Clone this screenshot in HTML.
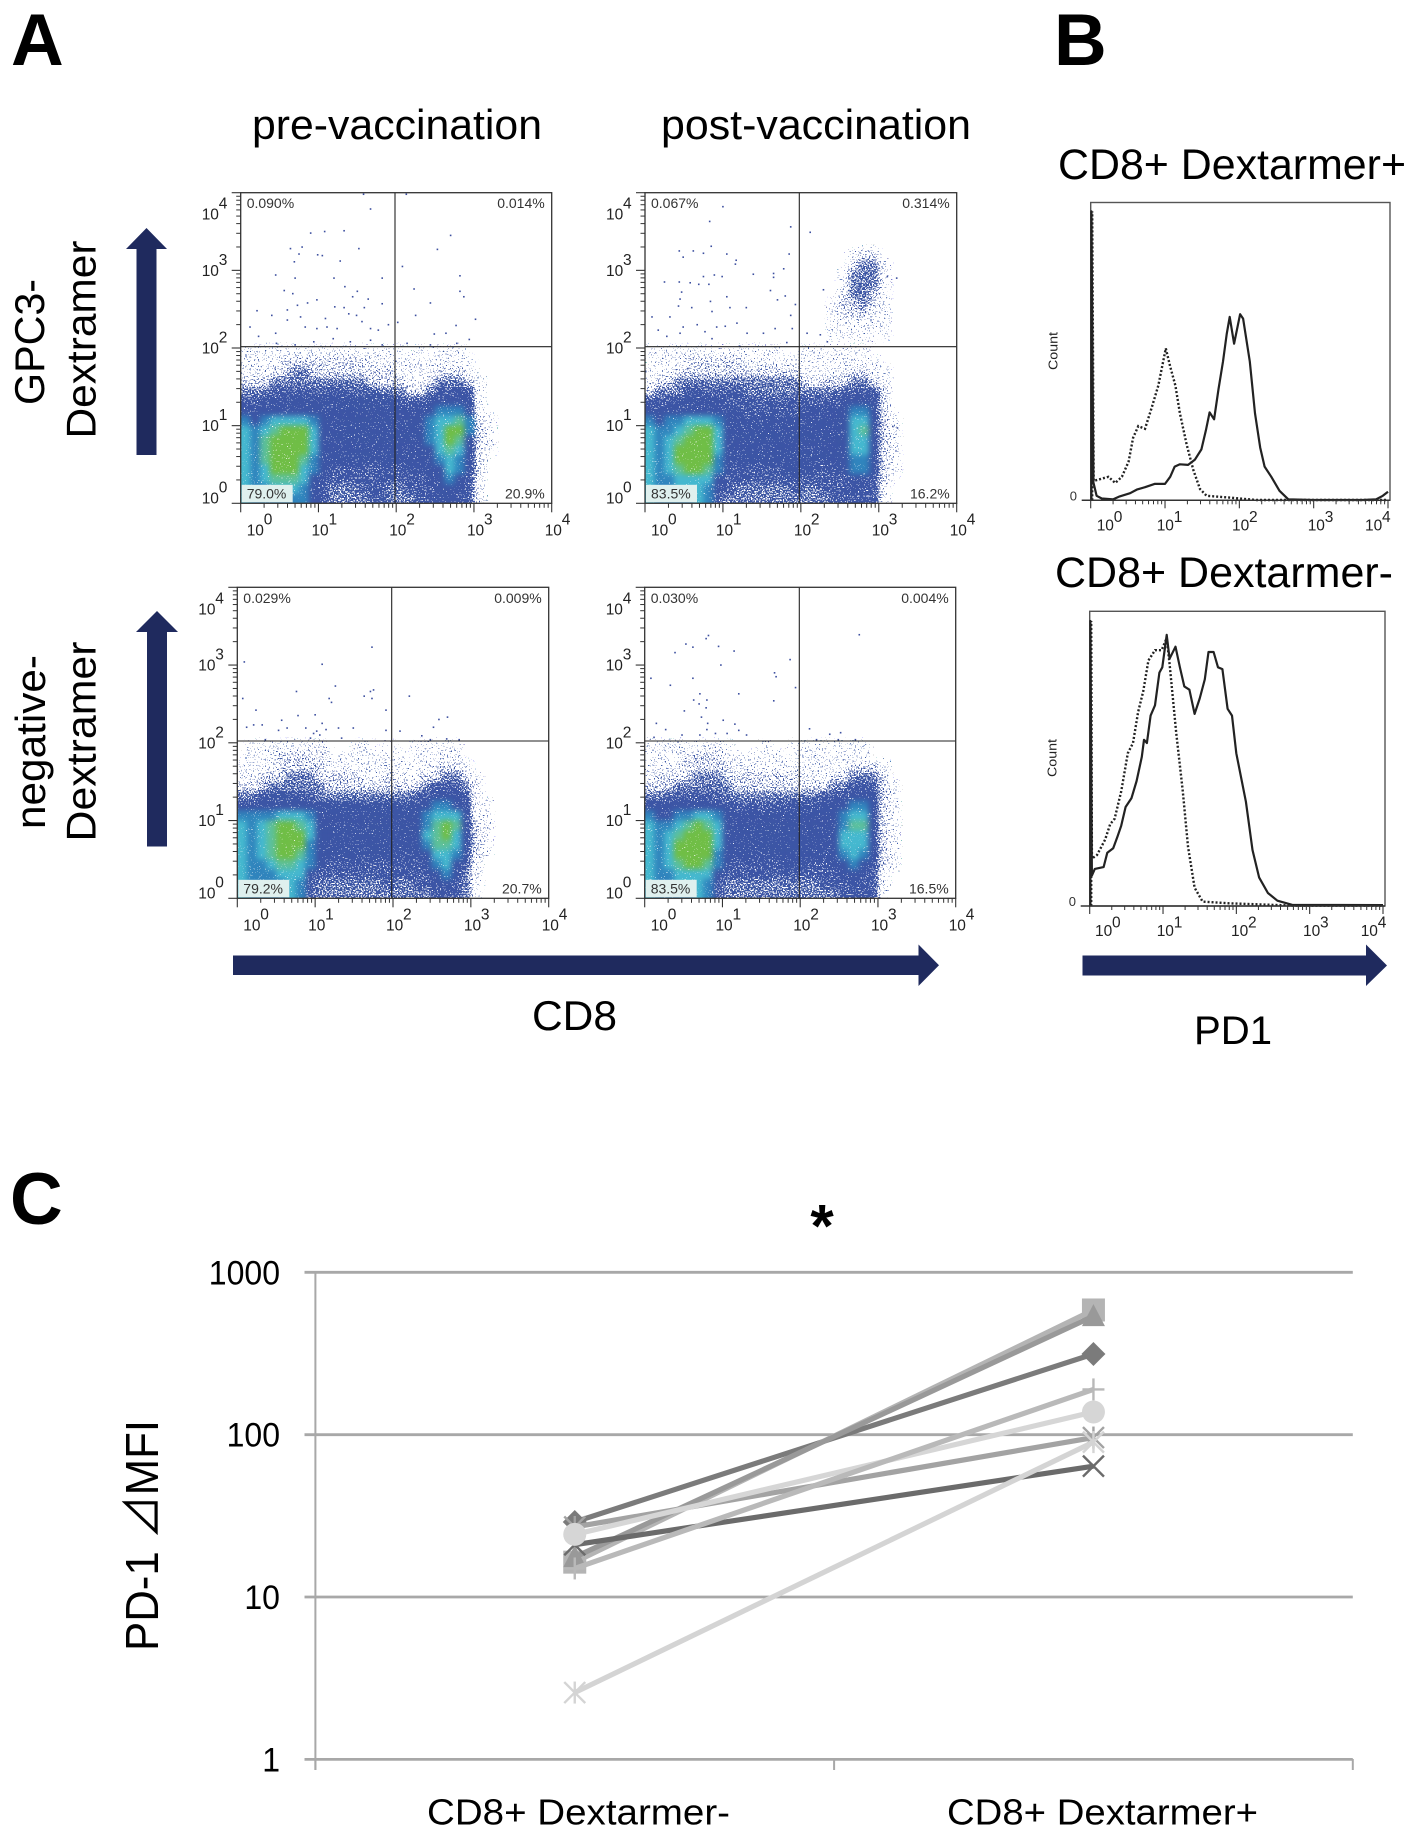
<!DOCTYPE html>
<html lang="en">
<head>
<meta charset="utf-8">
<title>Flow cytometry figure: PD-1 expression on dextramer positive CD8 T cells</title>
<style>
html,body{margin:0;padding:0;background:#fff;}
svg{display:block;}
text{font-family:"Liberation Sans","Noto Sans CJK JP",sans-serif;fill:#000;}
</style>
</head>
<body>
<svg id="figure" xmlns="http://www.w3.org/2000/svg" width="1417" height="1839" viewBox="0 0 1417 1839">
  <defs>
    <!-- Turns density (alpha) into an event-like speckle texture, the way a pseudocolour dot plot looks -->
    <filter id="density-blur" x="-8%" y="-8%" width="116%" height="116%" color-interpolation-filters="sRGB">
      <feGaussianBlur in="SourceGraphic" stdDeviation="3" result="soft"/>
      <feTurbulence type="fractalNoise" baseFrequency="0.72" numOctaves="1" seed="7" result="noise"/>
      <feColorMatrix in="noise" type="matrix" values="0 0 0 0 0  0 0 0 0 0  0 0 0 0 0  2.5 0 0 0 -0.75" result="noiseAlpha"/>
      <feComposite in="soft" in2="noiseAlpha" operator="arithmetic" k1="0" k2="1" k3="1" k4="-0.98" result="sum"/>
      <feComponentTransfer in="sum" result="mask"><feFuncA type="linear" slope="40" intercept="0"/></feComponentTransfer>
      <feComponentTransfer in="soft" result="opaque"><feFuncA type="linear" slope="100" intercept="0"/></feComponentTransfer>
      <feComposite in="opaque" in2="mask" operator="in"/>
    </filter>
  </defs>
  <rect x="0" y="0" width="1417" height="1839" fill="#fff"/>

  <text x="11" y="65" font-size="73" font-weight="bold">A</text>
  <text x="1054" y="65" font-size="73" font-weight="bold">B</text>
  <text x="10" y="1224" font-size="73" font-weight="bold">C</text>

  <text x="252" y="139" font-size="42" textLength="290" lengthAdjust="spacingAndGlyphs">pre-vaccination</text>
  <text x="661" y="139" font-size="42" textLength="310" lengthAdjust="spacingAndGlyphs">post-vaccination</text>

  <text transform="translate(44 405) rotate(-90)" font-size="42" textLength="126" lengthAdjust="spacingAndGlyphs">GPC3-</text>
  <text transform="translate(95.5 438.5) rotate(-90)" font-size="42" textLength="198" lengthAdjust="spacingAndGlyphs">Dextramer</text>
  <text transform="translate(45 829) rotate(-90)" font-size="42" textLength="174" lengthAdjust="spacingAndGlyphs">negative-</text>
  <text transform="translate(95.5 841.5) rotate(-90)" font-size="42" textLength="200" lengthAdjust="spacingAndGlyphs">Dextramer</text>

  <polygon fill="#1f2a5e" points="136.5,455 156.5,455 156.5,249 167,249 146.5,228 126,249 136.5,249"/>
  <polygon fill="#1f2a5e" points="147,846.5 167,846.5 167,632 178,632 157,611 136,632 147,632"/>
  <polygon fill="#1f2a5e" points="233,955.5 918.5,955.5 918.5,944.5 939,965.3 918.5,986 918.5,975 233,975"/>
  <polygon fill="#1f2a5e" points="1082.5,955.5 1366,955.5 1366,944.5 1387,965.5 1366,986 1366,975.5 1082.5,975.5"/>

  <text x="532" y="1030" font-size="42" textLength="85" lengthAdjust="spacingAndGlyphs">CD8</text>
  <text x="1194" y="1044" font-size="40" textLength="78" lengthAdjust="spacingAndGlyphs">PD1</text>
  <text x="1058" y="179" font-size="42.5" textLength="348" lengthAdjust="spacingAndGlyphs">CD8+ Dextarmer+</text>
  <text x="1055" y="587" font-size="42.5" textLength="338" lengthAdjust="spacingAndGlyphs">CD8+ Dextarmer-</text>

  <text x="822" y="1246.5" font-size="60" font-weight="bold" text-anchor="middle">*</text>
  <text transform="translate(158 1651) rotate(-90)" font-size="46" textLength="231" lengthAdjust="spacingAndGlyphs">PD-1 ⊿MFI</text>

  <g id="flow-layer"></g>
  <g id="hist-layer"></g>
  <g id="line-layer"></g>
</svg>

<script>
/* ---------- shared flow axis labels ---------- */
const flowDecades = [0, 1, 2, 3, 4];
const minorMultipliers = [2, 3, 4, 5, 6, 7, 8, 9];

/* ---------- flow density grids: level 0-9, each cell 1/8 decade; rows run from high dextramer to low, columns from low CD8 to high ---------- */
const preGpc3Density = [
[1,1,1,1,1,1,1,1,1,1,1,1,1,1,1,1,1,0,1,0,1,1,1,0,0,0],
[1,1,1,1,2,2,2,2,2,2,2,2,2,1,1,1,1,1,1,1,1,1,1,1,0,0],
[1,1,1,2,2,3,3,2,2,2,2,2,2,2,2,2,1,1,1,1,2,2,2,1,0,0],
[2,2,2,3,3,3,3,3,3,3,3,3,3,2,2,2,2,1,1,2,3,3,3,2,1,0],
[3,3,3,4,4,4,4,4,4,4,4,4,4,4,3,3,3,2,2,3,4,4,5,4,1,0],
[4,4,5,5,5,5,5,5,5,5,5,5,5,5,5,5,4,4,4,5,5,5,5,5,1,0],
[5,5,5,5,5,5,5,5,5,5,5,5,5,5,5,5,5,5,5,5,6,6,6,5,1,0],
[6,5,6,7,7,7,7,6,5,5,5,5,5,5,5,5,5,5,5,6,7,7,8,6,2,1],
[7,6,7,8,9,9,9,7,5,5,5,5,5,5,5,5,5,5,5,6,7,9,9,6,2,1],
[7,6,8,9,9,9,9,7,5,5,5,5,5,5,5,5,5,5,5,6,7,9,8,5,2,1],
[7,6,8,9,9,9,9,7,5,5,5,5,5,5,5,5,5,5,5,5,7,8,7,5,2,1],
[7,6,8,9,9,9,8,6,5,5,5,5,5,5,5,5,5,5,5,5,6,7,6,5,2,0],
[7,6,7,9,9,9,7,6,5,4,4,4,4,4,4,4,4,5,5,5,5,7,6,5,2,0],
[7,6,7,8,8,8,7,5,4,4,4,4,4,4,4,4,4,4,4,5,5,6,5,4,1,0],
[7,6,6,7,7,7,6,5,4,3,3,3,4,4,4,3,3,4,4,4,5,5,5,4,1,0],
[7,6,6,6,6,6,6,5,4,3,3,3,3,4,4,3,3,3,4,4,5,5,4,4,1,0]
];
const postGpc3Density = [
[1,1,1,1,1,1,1,1,1,1,1,1,1,1,0,0,1,1,1,1,1,1,1,0,0,0],
[0,1,1,1,2,2,2,2,2,2,1,1,1,1,1,1,1,1,1,1,1,1,1,1,0,0],
[1,1,1,2,2,2,2,2,2,2,2,2,2,2,2,2,1,1,1,1,2,2,2,1,1,0],
[1,2,2,3,3,3,3,3,3,3,3,3,3,3,3,3,2,1,2,2,2,3,3,2,1,0],
[2,3,3,3,4,4,4,4,4,4,3,3,3,3,3,3,3,3,3,3,4,4,4,4,2,0],
[4,4,4,5,5,5,5,5,4,4,4,4,4,4,4,4,4,4,4,4,5,5,5,5,2,0],
[5,5,5,5,5,5,5,5,5,5,4,4,4,4,4,4,5,5,5,5,5,6,6,5,2,0],
[6,5,6,6,7,7,7,6,5,5,5,5,5,5,5,5,5,5,5,5,5,7,7,5,2,1],
[7,6,6,7,8,9,9,7,5,5,5,5,5,5,5,5,5,5,5,5,5,7,8,5,2,1],
[7,6,7,8,9,9,9,7,5,5,5,5,5,5,5,5,5,5,5,5,5,7,7,5,2,1],
[7,6,7,9,9,9,9,7,5,5,5,5,5,5,5,5,5,5,5,5,5,7,7,5,2,1],
[7,6,7,9,9,9,9,6,5,5,5,5,5,5,5,5,5,5,5,5,5,6,6,5,2,1],
[7,6,7,8,9,9,8,6,5,4,4,4,4,4,5,5,5,4,4,5,5,6,6,5,2,1],
[7,6,6,7,7,7,7,5,4,4,4,4,4,4,4,4,4,4,4,4,4,5,5,4,2,0],
[7,6,6,7,7,7,6,5,4,3,3,3,3,3,3,4,3,3,4,4,4,5,4,4,1,0],
[7,6,6,6,6,7,6,4,3,3,3,3,3,3,3,3,3,3,3,4,4,4,4,4,1,0]
];
const preNegativeDensity = [
[0,1,1,1,1,1,1,1,1,0,0,0,1,1,0,1,0,0,1,1,1,1,1,0,0,0],
[0,1,1,1,2,2,2,2,2,1,1,1,1,1,1,1,1,0,1,1,1,1,1,0,0,0],
[1,1,1,1,2,2,2,2,2,1,1,1,1,1,1,1,1,1,1,1,2,2,2,1,0,0],
[1,1,2,2,2,3,3,3,2,2,2,2,2,1,1,2,1,1,1,2,2,3,3,2,1,0],
[2,2,2,3,3,3,3,3,3,2,2,2,2,2,2,2,2,2,2,3,4,4,4,3,1,0],
[3,3,4,4,4,4,4,4,3,3,3,3,3,3,3,3,3,3,4,4,5,5,5,4,1,0],
[5,5,5,5,5,5,5,5,5,5,5,5,5,5,5,5,5,5,5,5,6,6,5,5,1,1],
[6,6,6,6,7,7,7,6,5,5,5,5,5,5,5,5,5,5,5,6,7,7,7,5,1,1],
[7,6,7,8,9,9,8,7,5,5,5,5,5,5,5,5,5,5,5,6,8,9,8,5,2,1],
[7,6,7,8,9,9,9,7,5,5,5,5,5,5,5,5,5,5,5,7,8,9,7,5,2,1],
[7,6,7,8,9,9,9,6,5,5,5,5,5,5,5,5,5,5,5,6,8,8,7,5,2,1],
[7,6,7,8,9,9,8,6,5,5,5,5,5,5,5,5,5,5,5,5,7,7,6,4,2,1],
[7,6,6,7,8,8,7,6,5,4,4,4,4,4,4,4,4,4,4,5,6,7,5,4,1,0],
[7,6,6,6,7,7,7,5,4,4,4,4,4,4,4,4,4,4,4,4,5,6,5,3,1,0],
[7,6,6,6,6,7,6,4,3,3,3,3,3,3,3,4,3,3,4,4,4,5,4,3,1,0],
[7,6,6,6,6,7,6,4,3,3,3,3,3,3,3,3,3,3,3,3,4,4,4,3,1,0]
];
const postNegativeDensity = [
[1,1,1,1,1,1,1,1,1,0,0,0,1,0,0,1,1,1,1,1,1,1,1,0,0,0],
[0,1,1,1,2,2,2,2,1,1,1,1,1,1,1,0,1,1,1,1,1,1,1,0,0,0],
[1,1,1,1,2,2,2,2,2,1,1,1,1,1,1,1,1,1,1,1,1,2,2,2,1,0],
[1,2,2,2,2,3,3,3,2,2,2,2,2,2,2,2,1,1,1,2,2,3,3,3,2,0],
[2,2,2,3,3,3,3,3,3,2,2,2,2,2,2,2,2,2,2,3,3,4,5,4,2,1],
[3,3,4,4,4,4,4,4,3,3,3,3,3,3,3,3,3,3,4,4,4,5,5,5,2,1],
[5,5,5,5,5,5,5,5,5,4,4,4,4,4,4,5,5,5,5,5,5,6,6,5,2,1],
[6,5,5,6,6,7,7,6,5,5,5,5,5,5,5,5,5,5,5,5,6,7,7,5,2,1],
[7,6,6,7,8,9,8,7,5,5,5,5,5,5,5,5,5,5,5,5,6,8,8,5,2,1],
[7,6,7,8,9,9,9,7,5,5,5,5,5,5,5,5,5,5,5,5,7,7,7,5,2,1],
[7,6,7,9,9,9,9,7,5,5,5,5,5,5,5,5,5,5,5,5,7,7,7,5,2,1],
[7,6,7,9,9,9,9,6,5,5,5,5,5,5,5,5,5,5,5,5,6,7,6,5,2,1],
[7,6,7,8,9,9,8,6,5,4,4,4,4,4,5,5,5,4,4,5,5,6,5,5,2,1],
[7,6,6,7,7,7,7,5,4,4,4,4,4,4,4,4,4,4,4,4,5,5,5,4,1,0],
[7,6,6,7,7,7,6,4,3,3,3,3,3,3,3,3,3,3,4,4,4,5,4,4,1,0],
[7,6,6,6,6,7,6,4,3,3,3,3,3,3,3,3,3,3,3,3,4,4,4,4,1,0]
];
/* antigen-specific CD8+ dextramer+ cluster in the post-vaccination plot */
const postClusterDensity = [
[0,0,1,2,2,0],
[0,0,2,3,3,1],
[0,1,3,3,3,1],
[0,1,3,3,3,1],
[0,2,3,3,2,1],
[1,2,2,3,2,1],
[1,2,2,2,1,1],
[1,1,1,1,1,1],
[1,1,1,1,1,1]
];

/* ---------- individual events (log10 CD8, log10 dextramer) ---------- */
const preGpc3DotX = [1.58,1.67,2.13,.90,1.08,1.33,.64,.79,1.52,.75,.99,1.05,.69,1.28,.45,.7,1.2,1.82,2.08,2.53,2.7,2.82,2.82,2.87,.56,.67,1.34,1.5,1.44,2.23,1.64,.98,.86,.73,1.82,2.44,.21,.4,.6,.77,1.09,1.21,1.33,1.59,1.39,1.49,2.25,3.02,.12,.23,.45,.6,.83,.98,1.11,1.24,1.56,1.67,1.77,1.9,2.02,2.77,2.64,2.49,2.94,2.78,2.14,2.44,1.19,1.41,.94,.46,.7,1.67,1.82];
const preGpc3DotY = [3.98,3.79,3.98,3.48,3.5,3.51,3.28,3.3,3.28,3.21,3.2,3.19,3.11,3.12,2.94,2.9,2.9,2.9,3.05,3.27,3.45,2.93,2.73,2.66,2.74,2.7,2.79,2.73,2.66,2.76,2.63,2.62,2.58,2.55,2.57,2.58,2.48,2.42,2.49,2.4,2.38,2.53,2.52,2.52,2.44,2.42,2.42,2.37,2.27,2.15,2.19,2.36,2.27,2.25,2.27,2.25,2.34,2.25,2.23,2.3,2.33,2.29,2.19,2.18,2.11,2.06,2.06,2.04,2.12,2.08,2.08,2.06,2.04,2.1,2.04];
const postGpc3DotX = [1.0,.83,1.87,2.12,.85,.44,.62,.75,.49,1.05,1.85,1.17,1.16,1.78,1.39,1.65,1.65,.75,.89,.99,.25,.44,.58,.69,.82,2.29,1.61,1.8,1.7,1.05,.47,.45,.84,1.93,1.09,1.3,.43,.6,.09,.32,.86,1.87,.67,.49,.92,1.03,1.18,1.67,1.89,.17,.45,.77,1.31,1.52,.28,.86,1.22,1.82,2.25,2.08,2.34,3.23,3.11,3.24,3.18];
const postGpc3DotY = [3.82,3.63,3.56,3.49,3.31,3.25,3.25,3.22,3.17,3.21,3.21,3.13,3.08,3.02,2.95,2.96,2.91,2.92,2.94,2.92,2.85,2.85,2.84,2.82,2.82,2.75,2.74,2.67,2.62,2.66,2.72,2.63,2.6,2.56,2.52,2.52,2.54,2.52,2.4,2.4,2.47,2.42,2.3,2.27,2.27,2.28,2.32,2.25,2.25,2.23,2.19,2.21,2.19,2.19,2.15,2.12,2.02,2.07,2.17,2.19,2.08,2.9,2.92,.97,.99];
const preNegativeDotX = [1.73,.09,1.09,1.26,.76,1.71,1.75,1.63,1.73,2.21,1.18,1.21,.07,.24,1.91,2.7,2.59,2.52,.57,.78,1,1.09,.12,.21,.32,.53,.64,.88,.98,1.02,1.14,1.3,1.49,1.91,2.09,2.37,.94,1.06,.36,1.34,2.48,2.69,2.85];
const preNegativeDotY = [3.23,3.04,3.01,2.73,2.66,2.66,2.68,2.6,2.57,2.6,2.57,2.52,2.57,2.42,2.42,2.33,2.3,2.2,2.29,2.35,2.36,2.25,2.2,2.23,2.23,2.16,2.19,2.19,2.12,2.15,2.17,2.19,2.19,2.16,2.15,2.09,2.06,2.1,2.04,2.06,2.04,2.05,2.04];
const postNegativeDotX = [.82,.79,.53,.62,.95,.39,1.15,.98,1.87,2.76,1.67,1.69,.08,.62,.33,1.94,.71,1.21,.63,.8,.7,1.66,.79,.51,.73,1.01,.15,.81,1.16,.27,2.12,.8,1.21,.71,.91,.48,.12,1.06,1.31,2.21,2.38,2.52,2.71,2.49];
const postNegativeDotY = [3.38,3.34,3.27,3.23,3.24,3.16,3.18,3.0,3.07,3.39,2.9,2.85,2.83,2.83,2.74,2.71,2.63,2.63,2.55,2.55,2.5,2.54,2.45,2.41,2.33,2.29,2.25,2.25,2.24,2.17,2.18,2.17,2.16,2.1,2.12,2.1,2.07,2.12,2.1,2.04,2.11,2.13,2.04,2.04];

/* ---------- quadrant percentages: upper left, upper right, lower left, lower right ---------- */
const preGpc3Percent = ["0.090%", "0.014%", "79.0%", "20.9%"];
const postGpc3Percent = ["0.067%", "0.314%", "83.5%", "16.2%"];
const preNegativePercent = ["0.029%", "0.009%", "79.2%", "20.7%"];
const postNegativePercent = ["0.030%", "0.004%", "83.5%", "16.5%"];

/* ---------- PD1 histograms: log10 PD1 and percent of the count axis ---------- */
const posSolidPd1 = [.01,.01,.036,.08,.15,.30,.39,.53,.62,.73,.86,1.0,1.07,1.13,1.2,1.31,1.4,1.49,1.55,1.6,1.66,1.72,1.78,1.83,1.87,1.93,2.01,2.05,2.14,2.21,2.28,2.34,2.43,2.54,2.66,2.99,3.66,3.84,3.93,4.0];
const posSolidCount = [0,97,6,1.5,.6,.3,1.3,2.4,3.6,4.4,5.5,5.5,7.9,11.3,12.1,11.9,13.6,17.1,23.5,29.5,27.2,37.3,46.6,55.8,61.6,52.6,62.5,61,46.6,29.2,17.7,11.3,7.9,3.2,.3,.1,.1,.3,1.5,2.9];
const posDottedPd1 = [.02,.02,.04,.24,.33,.42,.51,.57,.64,.73,.82,.91,1.01,1.07,1.14,1.2,1.29,1.38,1.47,1.56,1.87,2.23,4.0];
const posDottedCount = [0,97,6.5,7.9,5.8,7.9,13,21,24.9,24,31,38.5,51,44.9,38.5,29.2,18.8,10.2,3.8,1.5,.9,.1,.1];
const negSolidPd1 = [.01,.01,.03,.07,.19,.24,.32,.38,.43,.49,.57,.64,.71,.74,.78,.83,.89,.95,.99,1.05,1.09,1.17,1.23,1.29,1.36,1.43,1.5,1.57,1.62,1.69,1.75,1.81,1.88,1.94,2.0,2.13,2.22,2.31,2.43,2.56,2.76,4.0];
const negSolidCount = [0,96.7,10.3,12.6,13.2,18.1,19.6,23.7,27.2,33.6,36.6,42.4,50.6,56.4,55.3,64.6,68.1,79.2,81,92,83.9,88,81,74.5,73.4,65.2,70.4,76.9,86.2,86.2,81,80.4,66.9,64.6,51.8,35.4,19,9.7,4.4,1.8,.4,.3];
const negDottedPd1 = [.02,.02,.03,.1,.21,.28,.34,.43,.52,.59,.66,.73,.8,.89,.98,1.05,1.09,1.18,1.27,1.34,1.43,1.54,1.9,2.81,4.0];
const negDottedCount = [0,96.7,16.1,17.3,22.5,27.8,29.6,38.9,51.8,55.3,65.8,72.8,83.3,86.8,86.8,90.9,82.1,58.8,38.9,20.2,6.2,1.5,.9,.1,.1];

/* ---------- panel C ---------- */
const mfiCategories = ["CD8+ Dextarmer-", "CD8+ Dextarmer+"];
const mfiTicks = [1, 10, 100, 1000];
const mfiDiamond = [29, 314];
const mfiSquare = [16.4, 586];
const mfiTriangle = [17.6, 537];
const mfiCross = [21, 64];
const mfiStar = [27, 96];
const mfiCircle = [24.3, 138];
const mfiPlus = [15, 190];
const mfiAsterisk = [2.58, 90];

/* ---------- rendering ---------- */
const NS = 'http://www.w3.org/2000/svg';
const densityColors = ['#ffffff','#3c55a5','#3c55a5','#3c55a5','#3c55a5','#3c55a5','#3084bd','#45b8cf','#5dc09a','#70be46'];
const densityCoverage = [0, 0.1, 0.28, 0.62, 0.86, 1, 1, 1, 1, 1];
const CELL = 0.125;

function mk(tag, attrs, parent) {
  const el = document.createElementNS(NS, tag);
  for (const k in attrs) el.setAttribute(k, attrs[k]);
  parent.appendChild(el);
  return el;
}
function linearAxis(d0, d1, p0, p1) {
  return v => p0 + (v - d0) / (d1 - d0) * (p1 - p0);
}
function logAxis(d0, d1, p0, p1) {
  const s = linearAxis(Math.log10(d0), Math.log10(d1), p0, p1);
  return v => s(Math.log10(v));
}
function powerLabel(parent, x, y, exp, name, sup) {
  const t = mk('text', {x: x, y: y, 'font-size': 15.5, fill: '#222'}, parent);
  
  
  t.style.fill = '#222';
  t.appendChild(document.createTextNode('10'));
  const s = mk('tspan', {x: x + sup.dx, y: y - sup.dy}, t);
  
  
  s.textContent = exp;
}
function drawDensity(group, grid, rowTop, colStart, sx, sy, extend) {
  grid.forEach((row, r) => {
    row.forEach((level, c) => {
      if (!level) return;
      let x0 = sx(colStart + c * CELL);
      const x1 = sx(colStart + (c + 1) * CELL);
      const y0 = sy(rowTop - r * CELL);
      let y1 = sy(rowTop - (r + 1) * CELL);
      if (extend && c === 0) x0 -= 12;
      if (extend && r === grid.length - 1) y1 += 12;
      const cell = mk('rect', {x: x0, y: y0, width: x1 - x0, height: y1 - y0, fill: densityColors[level], 'fill-opacity': densityCoverage[level]}, group);
      
      
    });
  });
}
function drawFlowPanel(cfg) {
  const layer = document.getElementById('flow-layer');
  const g = mk('g', {}, layer);
  
  
  const sx = linearAxis(0, 4, cfg.left, cfg.right);
  const sy = linearAxis(0, 4, cfg.bottom, cfg.top);
  const clipId = cfg.name + '-clip';
  const defs = mk('clipPath', {id: clipId}, g);
  mk('rect', {x: cfg.left, y: cfg.top, width: cfg.right - cfg.left, height: cfg.bottom - cfg.top}, defs);

  const clip = mk('g', {'clip-path': 'url(#' + clipId + ')'}, g);
  
  
  const blur = mk('g', {filter: 'url(#density-blur)'}, clip);
  drawDensity(blur, cfg.density, 2, 0, sx, sy, true);
  if (cfg.cluster) drawDensity(blur, cfg.cluster, 3.25, 2.375, sx, sy, false);

  cfg.dotX.forEach((v, i) => {
    const dot = mk('rect', {x: sx(v) - 0.8, y: sy(cfg.dotY[i]) - 0.8, width: 1.6, height: 1.6, fill: '#3c4f9f'}, g);
    
    
  });

  const box = mk('rect', {x: cfg.left + 1, y: cfg.bottom - 18.5, width: 51, height: 17.5, fill: '#dff0ee'}, g);
  
  

  const vLine = mk('line', {x1: cfg.gateX, x2: cfg.gateX, y1: cfg.top, y2: cfg.bottom, stroke: '#222', 'stroke-width': 1.1}, g);
  
  
  const hLine = mk('line', {x1: cfg.left, x2: cfg.right, y1: cfg.gateY, y2: cfg.gateY, stroke: '#222', 'stroke-width': 1.1}, g);
  
  
  const frame = mk('rect', {x: cfg.left, y: cfg.top, width: cfg.right - cfg.left, height: cfg.bottom - cfg.top, fill: 'none', stroke: '#333', 'stroke-width': 1.3}, g);
  
  

  flowDecades.forEach(e => {
    const mx = mk('line', {x1: sx(e), x2: sx(e), y1: cfg.bottom, y2: cfg.bottom + 9, stroke: '#333', 'stroke-width': 1.1}, g);
    
    
    const my = mk('line', {x1: cfg.left - 9, x2: cfg.left, y1: sy(e), y2: sy(e), stroke: '#333', 'stroke-width': 1.1}, g);
    
    
    powerLabel(g, sx(e) + (e === 0 ? 6 : -7), cfg.bottom + 32, e, 'x-tick-label', {dx: 17, dy: 11});
    const nudge = e === 4 ? 27 : (e === 0 ? 0 : 5.5);
    powerLabel(g, cfg.left - 39, sy(e) + nudge, e, 'y-tick-label', {dx: 17, dy: 11});
    if (e === 4) return;
    minorMultipliers.forEach(m => {
      const off = Math.log10(m);
      const tx = mk('line', {x1: sx(e + off), x2: sx(e + off), y1: cfg.bottom, y2: cfg.bottom + 4.5, stroke: '#333', 'stroke-width': 1}, g);
      
      
      const ty = mk('line', {x1: cfg.left - 4.5, x2: cfg.left, y1: sy(e + off), y2: sy(e + off), stroke: '#333', 'stroke-width': 1}, g);
      
      
    });
  });

  const pctX = [cfg.left + 6, cfg.right - 7, cfg.left + 6, cfg.right - 7];
  const pctY = [cfg.top + 15.5, cfg.top + 15.5, cfg.bottom - 5, cfg.bottom - 5];
  cfg.percent.forEach((label, i) => {
    const t = mk('text', {x: pctX[i], y: pctY[i], 'font-size': 14, 'text-anchor': i % 2 ? 'end' : 'start'}, g);
    
    
    t.style.fill = '#333';
    t.textContent = label;
  });
}

drawFlowPanel({name: 'pre-vaccination-gpc3-plot', left: 240.7, right: 551.7, top: 192.7, bottom: 503.3, gateX: 395, gateY: 346.7, density: preGpc3Density, dotX: preGpc3DotX, dotY: preGpc3DotY, percent: preGpc3Percent});
drawFlowPanel({name: 'post-vaccination-gpc3-plot', left: 645, right: 956.7, top: 192.7, bottom: 503.3, gateX: 799.3, gateY: 346.7, density: postGpc3Density, cluster: postClusterDensity, dotX: postGpc3DotX, dotY: postGpc3DotY, percent: postGpc3Percent});
drawFlowPanel({name: 'pre-vaccination-negative-plot', left: 237.3, right: 548.7, top: 587.3, bottom: 898.3, gateX: 391.7, gateY: 741, density: preNegativeDensity, dotX: preNegativeDotX, dotY: preNegativeDotY, percent: preNegativePercent});
drawFlowPanel({name: 'post-vaccination-negative-plot', left: 644.7, right: 955.7, top: 587.3, bottom: 898.3, gateX: 799.3, gateY: 741, density: postNegativeDensity, dotX: postNegativeDotX, dotY: postNegativeDotY, percent: postNegativePercent});

function curvePath(xs, ys, sx, sy) {
  return xs.map((v, i) => (i ? 'L' : 'M') + sx(v).toFixed(1) + ' ' + sy(ys[i]).toFixed(1)).join(' ');
}
function drawHistogram(cfg) {
  const layer = document.getElementById('hist-layer');
  const g = mk('g', {}, layer);
  
  
  const sx = linearAxis(0, 4, cfg.left, cfg.right - 2);
  const sy = linearAxis(0, 100, cfg.bottom, cfg.top);
  const frame = mk('rect', {x: cfg.left, y: cfg.top, width: cfg.right - cfg.left, height: cfg.bottom - cfg.top, fill: 'none', stroke: '#555', 'stroke-width': 1.4}, g);
  
  

  const solid = mk('path', {d: curvePath(cfg.solidX, cfg.solidY, sx, sy), fill: 'none', stroke: '#222', 'stroke-width': 2.2, 'stroke-linejoin': 'round'}, g);
  
  
  const dotted = mk('path', {d: curvePath(cfg.dotX, cfg.dotY, sx, sy), fill: 'none', stroke: '#222', 'stroke-width': 2.4, 'stroke-dasharray': '2 2'}, g);
  
  

  const base = mk('line', {x1: cfg.left - 9, x2: cfg.right, y1: cfg.bottom, y2: cfg.bottom, stroke: '#333', 'stroke-width': 1.5}, g);
  
  
  const zero = mk('text', {x: cfg.left - 21, y: cfg.bottom, 'font-size': 13}, g);
  
  
  zero.style.fill = '#333';
  zero.textContent = '0';
  const count = mk('text', {transform: 'translate(' + (cfg.left - 33) + ' ' + cfg.countY + ') rotate(-90)', 'font-size': 13, 'text-anchor': 'middle', textLength: 38, lengthAdjust: 'spacingAndGlyphs'}, g);
  
  
  count.style.fill = '#222';
  count.textContent = 'Count';

  flowDecades.forEach((e, i) => {
    const t = mk('line', {x1: sx(e), x2: sx(e), y1: cfg.bottom, y2: cfg.bottom + 8, stroke: '#333', 'stroke-width': 1.1}, g);
    
    
    powerLabel(g, cfg.labelX[i], cfg.bottom + 30, e, 'x-tick-label', {dx: 17, dy: 8.5});
    if (e === 4) return;
    minorMultipliers.forEach(m => {
      const tx = mk('line', {x1: sx(e + Math.log10(m)), x2: sx(e + Math.log10(m)), y1: cfg.bottom, y2: cfg.bottom + 4, stroke: '#333', 'stroke-width': 1}, g);
      
      
    });
  });
}
drawHistogram({name: 'histogram-dextramer-positive', left: 1090.7, right: 1390, top: 202.5, bottom: 500.3, countY: 351, labelX: [1096.7, 1156.7, 1232, 1307.7, 1365], solidX: posSolidPd1, solidY: posSolidCount, dotX: posDottedPd1, dotY: posDottedCount});
drawHistogram({name: 'histogram-dextramer-negative', left: 1089.7, right: 1385, top: 611.3, bottom: 906, countY: 758, labelX: [1095, 1156.7, 1231, 1303, 1360.7], solidX: negSolidPd1, solidY: negSolidCount, dotX: negDottedPd1, dotY: negDottedCount});

function drawMarker(g, shape, x, y, color) {
  const line = (x1, y1, x2, y2) => {
    const l = mk('line', {x1: x1, y1: y1, x2: x2, y2: y2, stroke: color, 'stroke-width': 2.4}, g);
    
    
  };
  let m = null;
  if (shape === 'diamond') m = mk('polygon', {points: [x, y - 12, x + 12, y, x, y + 12, x - 12, y].join(' '), fill: color}, g);
  if (shape === 'square') m = mk('rect', {x: x - 11.5, y: y - 11.5, width: 23, height: 23, fill: color}, g);
  if (shape === 'triangle') m = mk('polygon', {points: [x, y - 12, x + 11.5, y + 10, x - 11.5, y + 10].join(' '), fill: color}, g);
  if (shape === 'circle') m = mk('ellipse', {cx: x, cy: y, rx: 11.5, ry: 11.5, fill: color}, g);
  if (m) {
    
    
  }
  if (shape === 'cross' || shape === 'star' || shape === 'asterisk') {
    line(x - 10.5, y - 10.5, x + 10.5, y + 10.5);
    line(x - 10.5, y + 10.5, x + 10.5, y - 10.5);
  }
  if (shape === 'star' || shape === 'asterisk') line(x, y - 11, x, y + 11);
  if (shape === 'plus') {
    line(x - 11, y, x + 11, y);
    line(x, y - 11, x, y + 11);
  }
}
function drawLineChart() {
  const g = document.getElementById('line-layer');
  const sy = logAxis(1, 1000, 1759.4, 1272.3);
  const bandX = linearAxis(0, 2, 315.4, 1352.8);
  const catX = i => bandX(i + 0.5);
  const axisColor = '#a8a8a8';

  mfiTicks.forEach(v => {
    const grid = mk('line', {x1: 304.5, x2: 1352.8, y1: sy(v), y2: sy(v), stroke: axisColor, 'stroke-width': 2.8}, g);
    
    
    const lab = mk('text', {x: 280, y: sy(v) + 12, 'font-size': 34, 'text-anchor': 'end', textLength: String(v).length * 17.8, lengthAdjust: 'spacingAndGlyphs'}, g);
    
    
    lab.textContent = v;
  });
  const yAxis = mk('line', {x1: 315.4, x2: 315.4, y1: 1272, y2: 1770, stroke: axisColor, 'stroke-width': 2}, g);
  
  
  [0, 1, 2].forEach(i => {
    const t = mk('line', {x1: bandX(i), x2: bandX(i), y1: 1759, y2: 1770, stroke: axisColor, 'stroke-width': 2}, g);
    
    
  });
  const catStart = [427, 947];
  const catWidth = [303, 311];
  mfiCategories.forEach((c, i) => {
    const t = mk('text', {x: catStart[i], y: 1824.5, 'font-size': 36, textLength: catWidth[i], lengthAdjust: 'spacingAndGlyphs'}, g);
    
    
    t.textContent = c;
  });

  const series = [
    {name: 'series-diamond', shape: 'diamond', values: mfiDiamond, color: '#7b7b7b'},
    {name: 'series-square', shape: 'square', values: mfiSquare, color: '#b4b4b4'},
    {name: 'series-triangle', shape: 'triangle', values: mfiTriangle, color: '#999999'},
    {name: 'series-cross', shape: 'cross', values: mfiCross, color: '#6b6b6b'},
    {name: 'series-star', shape: 'star', values: mfiStar, color: '#a3a3a3'},
    {name: 'series-circle', shape: 'circle', values: mfiCircle, color: '#d6d6d6'},
    {name: 'series-plus', shape: 'plus', values: mfiPlus, color: '#b9b9b9'},
    {name: 'series-asterisk', shape: 'asterisk', values: mfiAsterisk, color: '#d4d4d4'}
  ];
  series.forEach(s => {
    const sg = mk('g', {}, g);
    
    
    const l = mk('line', {x1: catX(0), y1: sy(s.values[0]), x2: catX(1), y2: sy(s.values[1]), stroke: s.color, 'stroke-width': 5.2}, sg);
    
    
    s.values.forEach((v, i) => drawMarker(sg, s.shape, catX(i), sy(v), s.color));
  });
}
drawLineChart();
</script>
</body>
</html>
